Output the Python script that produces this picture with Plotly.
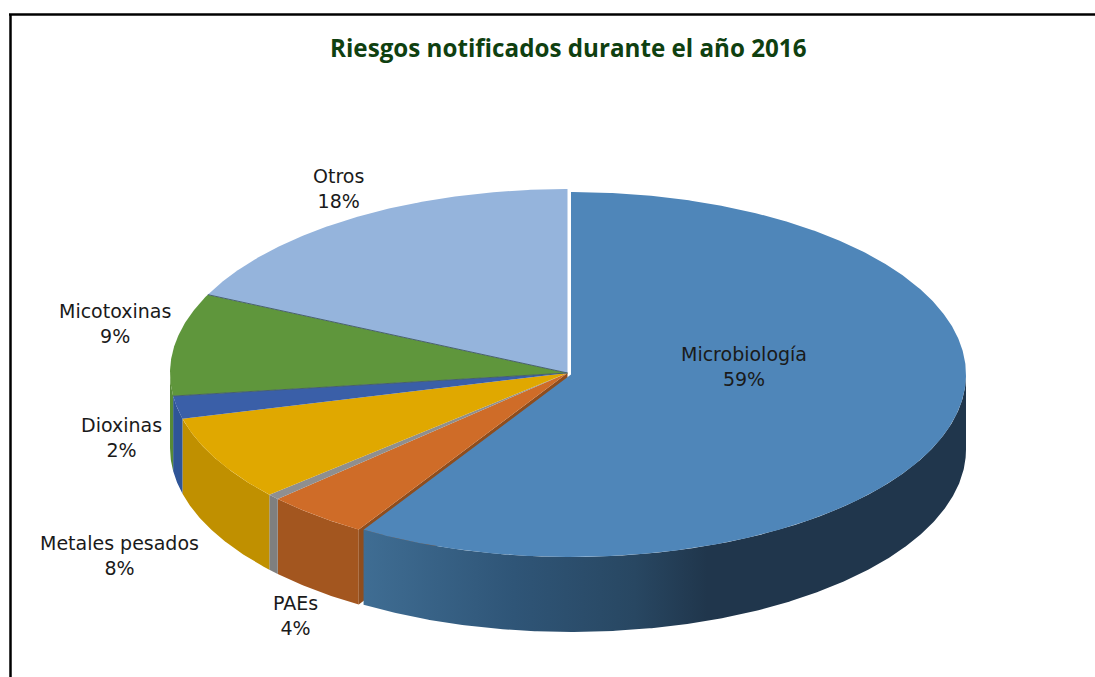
import numpy as np
import plotly.graph_objects as go

# Data (shares in %; the small grey slice carries no label in the reference)
categories = ["Microbiología", "PAEs", "Sin etiqueta", "Metales pesados", "Dioxinas", "Micotoxinas", "Otros"]
values = [58.8, 4.2, 0.5, 7.5, 2.0, 9.0, 18.0]
title_text = "Riesgos notificados durante el año 2016"

# Style
top_colors = ["#4f86b9", "#cf6c28", "#8f8f8f", "#e0a800", "#3a5fa8", "#5f963c", "#95b4dc"]
wall_colors = ["#2a4b67", "#a3561f", "#7f7f7f", "#c09000", "#2f5597", "#578a37", "#7f99bb"]
wall_scale = [[0, "#3f6d93"], [0.25, "#2f5577"], [0.45, "#284762"], [0.57, "#20364c"], [1, "#20364c"]]
label_pos = {"Microbiología": (744, 366), "PAEs": (295, 615), "Metales pesados": (119, 555.5),
             "Dioxinas": (121, 437), "Micotoxinas": (115, 323.5), "Otros": (338, 188.5)}
CX, CY, RX, RY = 567.5, 373.0, 397.5, 184.0
MX, MY, MRX, MRY = 571.0, 374.5, 395.0, 182.5
DEPTH = 75.0

shares = np.array(values) / sum(values) * 360.0
ends = np.cumsum(shares)
starts = ends - shares


def arc(a0, a1, cx, cy, rx, ry, dy=0.0):
    t = np.radians(np.linspace(a0, a1, max(3, int(abs(a1 - a0) * 3))))
    return cx + rx * np.sin(t), cy - ry * np.cos(t) + dy


def poly(x, y, color=None, **kw):
    args = dict(x=list(x), y=list(y), mode="lines", fill="toself", line=dict(width=0),
                hoverinfo="skip", showlegend=False)
    if color:
        args["fillcolor"] = color
    args.update(kw)
    return go.Scatter(**args)


def wall(a0, a1, cx, cy, rx, ry, color=None, **kw):
    a0, a1 = max(a0, 90.0), min(a1, 270.0)
    if a1 <= a0:
        return None
    x, y = arc(a0, a1, cx, cy, rx, ry)
    return poly(np.r_[x, x[::-1]], np.r_[y, y[::-1] + DEPTH], color, **kw)


def wedge(a0, a1, cx, cy, rx, ry, color):
    x, y = arc(a0, a1, cx, cy, rx, ry)
    return poly(np.r_[cx, x, cx], np.r_[cy, y, cy], color)


fig = go.Figure()

# Outer walls of the slices that stay in place
for i in range(1, len(values)):
    w = wall(starts[i], ends[i], CX, CY, RX, RY, wall_colors[i])
    if w is not None:
        fig.add_trace(w)

# Cut face of PAEs, seen through the gap left by the pulled-out slice
xr, yr = arc(starts[1], starts[1], CX, CY, RX, RY)
fig.add_trace(poly([CX, xr[0], xr[0], CX, CX], [CY, yr[0], yr[0] + DEPTH, CY + DEPTH, CY], "#8f4d1d"))

# Top faces
for i in range(1, len(values)):
    fig.add_trace(wedge(starts[i], ends[i], CX, CY, RX, RY, top_colors[i]))

# Thin dark seams between the slices
for i in (5, 6):
    x, y = arc(starts[i], starts[i], CX, CY, RX, RY)
    fig.add_trace(go.Scatter(x=[CX, x[0]], y=[CY, y[0]], mode="lines", hoverinfo="skip", showlegend=False,
                             line=dict(color="#47606b", width=1)))

# Pulled-out main slice
fig.add_trace(wall(starts[0], ends[0], MX, MY, MRX, MRY,
                   fillgradient=dict(type="horizontal", colorscale=wall_scale)))
fig.add_trace(wedge(starts[0], ends[0], MX, MY, MRX, MRY, top_colors[0]))

# Labels
annotations = []
for name, v in zip(categories, values):
    if name in label_pos:
        lx, ly = label_pos[name]
        annotations.append(dict(x=lx, y=ly, xref="x", yref="y", showarrow=False,
                                text=f"{name}<br>{round(v)}%", align="center",
                                font=dict(family="DejaVu Sans", size=19, color="#1a1a1a")))
annotations.append(dict(x=568, y=47, xref="x", yref="y", showarrow=False, text=f"<b>{title_text}</b>",
                        font=dict(family="Open Sans", size=24.2, color="#0f4010")))

fig.update_layout(
    width=1095, height=677, margin=dict(l=0, r=0, t=0, b=0),
    paper_bgcolor="white", plot_bgcolor="white", showlegend=False,
    xaxis=dict(range=[0, 1095], visible=False, fixedrange=True),
    yaxis=dict(range=[677, 0], visible=False, fixedrange=True),
    annotations=annotations,
    shapes=[
        dict(type="line", xref="x", yref="y", x0=9, x1=1095, y0=14.5, y1=14.5, line=dict(color="black", width=2.5)),
        dict(type="line", xref="x", yref="y", x0=10.5, x1=10.5, y0=14, y1=677, line=dict(color="black", width=2.5)),
    ],
)
fig.write_html("out.html", config=dict(displayModeBar=False),
               post_script="document.body.style.margin='0';document.documentElement.style.overflow='hidden';")
